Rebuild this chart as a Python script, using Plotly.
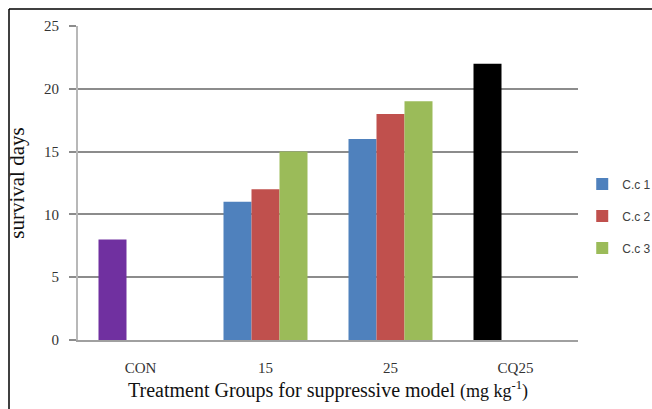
import plotly.graph_objects as go

categories = ["CON", "15", "25", "CQ25"]
cc1 = [None, 11, 16, None]
cc2 = [None, 12, 18, None]
cc3 = [None, 15, 19, None]
controls = [8, None, None, 22]
control_colors = ["#7030A0", "#4F81BD", "#4F81BD", "#000000"]
series_names = ["C.c 1", "C.c 2", "C.c 3"]
series_colors = ["#4F81BD", "#C0504D", "#9BBB59"]
y_ticks = [0, 5, 10, 15, 20, 25]

W = 0.224
fig = go.Figure()
fig.add_trace(go.Bar(x=categories, y=controls, width=W, offset=-1.5 * W,
                     marker=dict(color=control_colors, line=dict(width=0)),
                     showlegend=False, hoverinfo="skip"))
for i, (name, vals, col) in enumerate(zip(series_names, [cc1, cc2, cc3], series_colors)):
    fig.add_trace(go.Bar(x=categories, y=vals, name=name, width=W,
                         offset=(-1.5 + i) * W, legendgroup=name,
                         marker=dict(color=col, line=dict(width=0))))

fig.update_layout(
    width=652, height=409,
    margin=dict(l=78, r=74, t=26, b=69, autoexpand=False),
    paper_bgcolor="white", plot_bgcolor="white",
    barmode="overlay",
    showlegend=True,
    legend=dict(xref="container", yref="container", x=0.893, y=0.472,
                xanchor="left", yanchor="middle",
                font=dict(family="Liberation Sans", size=12, color="#404040"),
                tracegroupgap=13, itemwidth=30, traceorder="grouped"),
    xaxis=dict(type="category", range=[-0.5, 3.5], automargin=False,
               showline=True, linecolor="#a0a0a0", linewidth=1.5,
               ticks="", ticklabelstandoff=13,
               tickfont=dict(family="Liberation Serif", size=15, color="#333333"),
               showgrid=False,
               title=dict(text="Treatment Groups for suppressive model <span style='font-size:18px'>(mg kg<sup>-1</sup>)</span>",
                          font=dict(family="Liberation Serif", size=20, color="#111111"),
                          standoff=8)),
    yaxis=dict(range=[0, 25], tickvals=y_ticks, showgrid=True, automargin=False,
               gridcolor="#8c8c8c", gridwidth=1.5,
               showline=True, linecolor="#b8b8b8", linewidth=2,
               ticks="outside", ticklen=7, tickcolor="#8c8c8c", tickwidth=1.5,
               ticklabelstandoff=7,
               tickfont=dict(family="Liberation Serif", size=15, color="#333333"),
               zeroline=False,
               title=dict(text="survival days",
                          font=dict(family="Liberation Serif", size=21, color="#111111"),
                          standoff=14)),
    shapes=[
        dict(type="line", xref="paper", yref="paper",
             x0=-0.138, x1=1.2, y0=1.054, y1=1.054,
             line=dict(color="black", width=1.5), layer="below"),
        dict(type="line", xref="paper", yref="paper",
             x0=-0.138, x1=-0.138, y0=-0.3, y1=1.054,
             line=dict(color="black", width=1.5), layer="below"),
    ],
)

fig.write_html("out.html",
               config={"displayModeBar": False},
               post_script="document.body.style.margin='0';document.body.style.overflow='hidden';")
